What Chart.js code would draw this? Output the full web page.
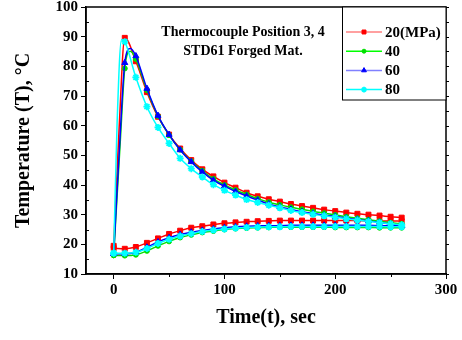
<!DOCTYPE html>
<html>
<head>
<meta charset="utf-8">
<script src="https://cdn.jsdelivr.net/npm/chart.js@4.4.1/dist/chart.umd.min.js"></script>
<style>
  html, body { margin: 0; padding: 0; background: #fff; }
</style>
</head>
<body>
<canvas id="tempChart" width="462" height="340"></canvas>
<script>
// pressures shown in the legend
const labels = ["20(MPa)", "40", "60", "80"];

// heating curves (thermocouple 3): early points, then every 10 s from 20 s
const riseT20 = [0, 5, 10];
const riseV20 = [19.5, 60, 89.6];
const riseT40 = [0, 6, 10, 15];
const riseV40 = [16.3, 55, 79.3, 85.1];
const riseT60 = [0, 6, 10, 15];
const riseV60 = [16.8, 58, 81.2, 86.0];
const riseT80 = [0, 3, 7, 10];
const riseV80 = [17.0, 60, 89.0, 88.3];

const decayTimes = [20, 30, 40, 50, 60, 70, 80, 90, 100, 110, 120, 130, 140, 150, 160, 170, 180, 190, 200, 210, 220, 230, 240, 250, 260];
const decay20 = [81.7, 71.3, 63.0, 57.0, 52.3, 48.4, 45.3, 42.9, 40.8, 39.1, 37.4, 36.2, 35.2, 34.4, 33.6, 32.9, 32.3, 31.7, 31.2, 30.7, 30.3, 30.0, 29.7, 29.3, 29.0];
const decay40 = [82.5, 72.0, 63.2, 56.8, 51.9, 48.0, 44.8, 42.1, 40.0, 38.3, 36.8, 35.4, 34.2, 33.3, 32.5, 31.8, 31.1, 30.5, 29.9, 29.3, 28.8, 28.3, 27.8, 27.3, 26.9];
const decay60 = [83.5, 72.5, 63.4, 57.0, 51.8, 47.8, 44.4, 41.6, 39.6, 37.8, 36.3, 34.9, 33.6, 32.6, 31.8, 31.0, 30.4, 29.8, 29.4, 28.8, 28.4, 27.9, 27.4, 26.8, 26.3];
const decay80 = [76.3, 66.4, 59.4, 54.0, 49.0, 45.5, 42.7, 40.1, 38.2, 36.6, 35.1, 34.1, 33.2, 32.3, 31.4, 30.7, 30.1, 29.6, 29.1, 28.6, 28.2, 27.7, 27.3, 26.9, 26.6];

// slow curves (thermocouple 4), every 10 s
const lowTimes = [0, 10, 20, 30, 40, 50, 60, 70, 80, 90, 100, 110, 120, 130, 140, 150, 160, 170, 180, 190, 200, 210, 220, 230, 240, 250, 260];
const low20 = [18.7, 18.5, 19.1, 20.5, 22.0, 23.5, 24.6, 25.6, 26.1, 26.7, 27.1, 27.4, 27.6, 27.8, 27.9, 28.0, 28.0, 28.0, 28.0, 28.0, 28.0, 28.0, 28.0, 27.9, 27.9, 27.9, 27.8];
const low40 = [16.3, 16.2, 16.5, 17.8, 19.5, 21.0, 22.3, 23.2, 24.0, 24.5, 25.0, 25.3, 25.5, 25.6, 25.7, 25.8, 25.8, 25.8, 25.8, 25.8, 25.7, 25.7, 25.7, 25.7, 25.6, 25.6, 25.6];
const low60 = [16.8, 16.8, 17.3, 19.0, 20.8, 22.2, 23.3, 24.1, 24.7, 25.2, 25.6, 25.9, 26.1, 26.2, 26.3, 26.3, 26.4, 26.4, 26.4, 26.4, 26.4, 26.4, 26.4, 26.4, 26.3, 26.3, 26.3];
const low80 = [17.0, 17.0, 17.3, 18.6, 20.3, 21.7, 22.8, 23.6, 24.3, 24.8, 25.2, 25.5, 25.7, 25.8, 25.9, 25.9, 26.0, 26.0, 26.0, 26.0, 26.0, 26.0, 26.0, 26.0, 26.0, 25.9, 25.9];

const xTicks = [0, 100, 200, 300];

const colors = ["#ff0000", "#00e000", "#0000ff", "#00ffff"];
const legendLine = ["#ff8080", "#00ff00", "#8080ff", "#00ffff"];
const shapes = ["rect", "circle", "triangle", "star"];
const sizes = [3.5, 2.5, 3.5, 3.5];

const FONT = '"Liberation Serif", "Times New Roman", serif';

function pts(times, vals) {
  return times.map((t, i) => ({ x: t, y: vals[i] }));
}

function series(i, data) {
  return {
    label: labels[i],
    data: data,
    borderColor: colors[i],
    backgroundColor: colors[i],
    pointBorderColor: colors[i],
    borderWidth: 1.5,
    pointStyle: shapes[i],
    pointBorderWidth: i === 3 ? 1.8 : 1,
    pointRadius: ctx => (ctx.raw && ctx.raw.x % 10 === 0 ? sizes[i] : 0),
    cubicInterpolationMode: "monotone",
    order: 4 - i
  };
}

const datasets = [
  series(0, pts(riseT20.concat(decayTimes), riseV20.concat(decay20))),
  series(1, pts(riseT40.concat(decayTimes), riseV40.concat(decay40))),
  series(2, pts(riseT60.concat(decayTimes), riseV60.concat(decay60))),
  series(3, pts(riseT80.concat(decayTimes), riseV80.concat(decay80))),
  series(0, pts(lowTimes, low20)),
  series(1, pts(lowTimes, low40)),
  series(2, pts(lowTimes, low60)),
  series(3, pts(lowTimes, low80))
];

// frame, extra ticks, caption and boxed legend
const decor = {
  id: "decor",
  afterDraw(chart) {
    const c = chart.ctx;
    const a = chart.chartArea;
    const xs = chart.scales.x, ys = chart.scales.y;
    c.save();
    c.strokeStyle = "#000";
    c.lineWidth = 1.5;
    c.strokeRect(a.left, a.top, a.right - a.left, a.bottom - a.top);

    c.lineWidth = 1;
    c.beginPath();
    for (let v = 15; v < 100; v += 10) {
      const y = Math.round(ys.getPixelForValue(v)) + 0.5;
      c.moveTo(a.left, y); c.lineTo(a.left + 3, y);
    }
    for (let v = 10; v <= 100; v += 5) {
      const y = Math.round(ys.getPixelForValue(v)) + 0.5;
      c.moveTo(a.right, y); c.lineTo(a.right + 3, y);
    }
    for (let v = 50; v < 300; v += 100) {
      const x = Math.round(xs.getPixelForValue(v)) + 0.5;
      c.moveTo(x, a.bottom); c.lineTo(x, a.bottom + 3);
    }
    c.stroke();

    c.fillStyle = "#000";
    c.font = "bold 14px " + FONT;
    c.textAlign = "center";
    c.textBaseline = "middle";
    c.fillText("Thermocouple Position 3, 4", 243, 32);
    c.fillText("STD61 Forged Mat.", 243, 51);

    // legend box
    const bx = a.right - 104, by = a.top, bw = 104, bh = 93;
    c.fillStyle = "#fff";
    c.fillRect(bx, by, bw, bh);
    c.lineWidth = 1;
    c.strokeStyle = "#000";
    c.strokeRect(bx + 0.5, by, bw - 0.5, bh);
    c.font = "bold 15px " + FONT;
    c.textAlign = "left";
    for (let i = 0; i < 4; i++) {
      const y = by + 25 + i * 19.2;
      c.strokeStyle = legendLine[i];
      c.lineWidth = 1.5;
      c.beginPath();
      c.moveTo(bx + 4, y); c.lineTo(bx + 40, y);
      c.stroke();
      c.fillStyle = colors[i];
      c.strokeStyle = colors[i];
      c.lineWidth = i === 3 ? 1.8 : 1;
      Chart.helpers.drawPoint(c, { pointStyle: shapes[i], radius: sizes[i] * 0.8, borderWidth: c.lineWidth }, bx + 22, y);
      c.fillStyle = "#000";
      c.fillText(labels[i], bx + 43, y + 1);
    }
    c.restore();
  }
};

new Chart(document.getElementById("tempChart"), {
  type: "line",
  data: { datasets: datasets },
  options: {
    responsive: false,
    animation: false,
    devicePixelRatio: 1,
    layout: { padding: { top: 7, right: 16, left: 0, bottom: 0 } },
    plugins: {
      legend: { display: false },
      tooltip: { enabled: false }
    },
    scales: {
      x: {
        type: "linear",
        min: -25,
        max: 300,
        afterBuildTicks: s => { s.ticks = xTicks.map(v => ({ value: v })); },
        afterFit: s => { s.height = 66; s.paddingLeft = 0; s.paddingRight = 0; },
        grid: { drawOnChartArea: false, tickLength: 5, color: "#000", lineWidth: 1 },
        border: { color: "#000", width: 1.5 },
        ticks: { color: "#000", padding: 2, maxRotation: 0, font: { family: FONT, size: 15, weight: "bold" } },
        title: {
          display: true,
          text: "Time(t), sec",
          color: "#000",
          padding: { top: 6, bottom: 10 },
          font: { family: FONT, size: 20, weight: "bold" }
        }
      },
      y: {
        min: 10,
        max: 100,
        afterFit: s => { s.width = 86; s.paddingTop = 0; s.paddingBottom = 0; },
        grid: { drawOnChartArea: false, tickLength: 5, color: "#000", lineWidth: 1 },
        border: { color: "#000", width: 1.5 },
        ticks: { stepSize: 10, color: "#000", padding: 3, font: { family: FONT, size: 15, weight: "bold" } },
        title: {
          display: true,
          text: "Temperature (T), °C",
          color: "#000",
          padding: { top: 12, bottom: 4 },
          font: { family: FONT, size: 20, weight: "bold" }
        }
      }
    }
  },
  plugins: [decor]
});
</script>
</body>
</html>
